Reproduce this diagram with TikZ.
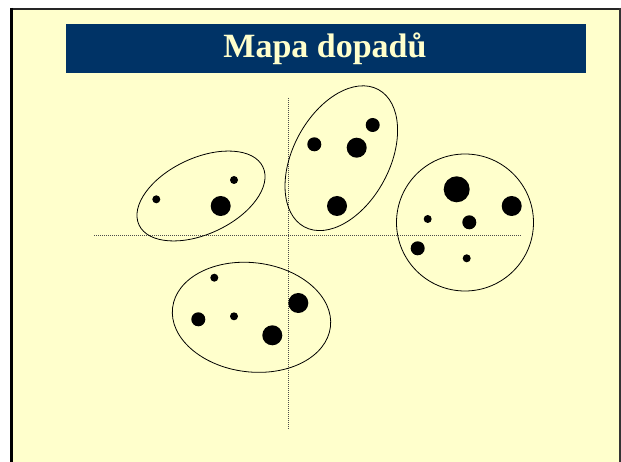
\documentclass[tikz,border=0pt]{standalone}
\usepackage{fontspec}
\setmainfont{Liberation Serif}
\usetikzlibrary{shapes.geometric}
\tikzset{dot/.style={circle,fill=black,inner sep=0pt}}
\definecolor{mcream}{RGB}{255,255,204}
\definecolor{mnavy}{RGB}{0,51,102}
\begin{document}
\begin{tikzpicture}[x=1pt, y=-1pt,
    cluster/.style={draw, ellipse, line width=0.8pt, inner sep=0pt},
    smalldot/.style={dot, minimum size=8pt},
    meddot/.style={dot, minimum size=14pt},
    bigdot/.style={dot, minimum size=20pt},
    hugedot/.style={dot, minimum size=26pt},
    axis/.style={line width=0.6pt, gray!60!black, dash pattern=on 1pt off 1pt},
    titlebar/.style={fill=mnavy, inner sep=0pt, minimum width=520pt, minimum height=49pt},
    titletext/.style={text=mcream, inner sep=0pt, font=\fontsize{34}{40}\selectfont\bfseries},
]
\useasboundingbox (0,0) rectangle (621,462);
\fill[white] (0,0) rectangle (621,462);
\fill[mcream] (11,9) rectangle (620,462);
\draw[line width=1.6pt, black!85] (10,8.8) -- (620.5,8.8);
\draw[line width=2.6pt, black] (11.3,8) -- (11.3,462);
\draw[line width=1.2pt, black!80] (620,8) -- (620,462);

\node[titlebar] (bar) at (326,48.5) {};
\node[titletext, anchor=base] (title) at (325,57.5) {Mapa dopadů};

\coordinate (xleft) at (94,235);
\coordinate (xright) at (521,235);
\coordinate (ytop) at (288.5,98);
\coordinate (ybottom) at (288.5,429);
\draw[axis] (xleft) -- (xright);
\draw[axis] (ytop) -- (ybottom);

\node[cluster, minimum width=136.8pt, minimum height=76pt, rotate=25] (westgroup) at (201,196) {};
\node[cluster, minimum width=156pt, minimum height=96.4pt, rotate=61.7] (northgroup) at (341.3,158.2) {};
\node[cluster, minimum width=137pt, minimum height=137pt] (eastgroup) at (465,222.5) {};
\node[cluster, minimum width=159pt, minimum height=109.2pt, rotate=-7] (southgroup) at (251.5,317.3) {};

\node[smalldot] (w1) at (156.3,199.3) {};
\node[smalldot] (w2) at (234,180) {};
\node[bigdot] (w3) at (220.7,206) {};

\node[meddot] (n1) at (314.3,144.3) {};
\node[bigdot] (n2) at (356.7,147.7) {};
\node[meddot] (n3) at (372.7,125) {};
\node[bigdot] (n4) at (337,206) {};

\node[hugedot] (e1) at (456.7,189.3) {};
\node[bigdot] (e2) at (511.7,206) {};
\node[smalldot] (e3) at (427.7,219) {};
\node[meddot] (e4) at (469.3,222.3) {};
\node[meddot] (e5) at (417.7,248.3) {};
\node[smalldot] (e6) at (466.7,258.3) {};

\node[smalldot] (s1) at (214.3,277.7) {};
\node[meddot] (s2) at (198.3,319.3) {};
\node[smalldot] (s3) at (234,316.3) {};
\node[bigdot] (s4) at (272.3,335.3) {};
\node[bigdot] (s5) at (298.3,303) {};
\end{tikzpicture}
\end{document}
